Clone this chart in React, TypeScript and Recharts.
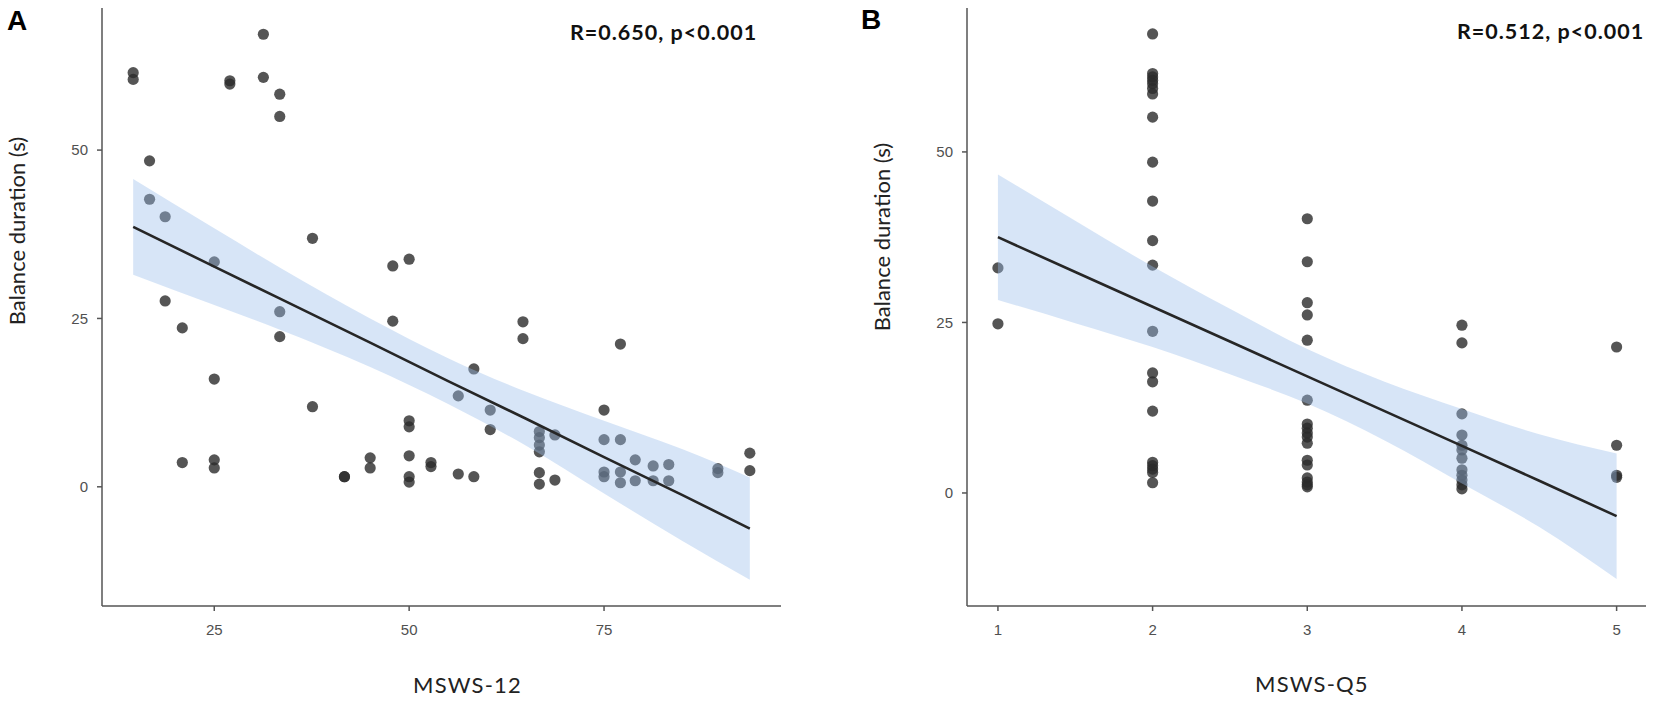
import React from 'react';
import { ComposedChart, Scatter, Area, Line, XAxis, YAxis } from 'recharts';

// ---------- Panel A: MSWS-12 vs Balance duration ----------
const msws12 = [
  14.6, 14.6, 16.7, 16.7, 18.7, 18.7, 20.9, 20.9, 25, 25, 25, 25, 27.0, 27.0,
  31.3, 31.3, 33.4, 33.4, 33.4, 33.4, 37.6, 37.6, 41.7, 41.7, 45, 45, 47.9, 47.9,
  50, 50, 50, 50, 50, 50, 52.8, 52.8, 56.3, 56.3, 58.3, 58.3, 60.4, 60.4, 64.6, 64.6,
  66.7, 66.7, 66.7, 66.7, 66.7, 66.7, 68.7, 68.7, 75, 75, 75, 75, 77.1, 77.1, 77.1, 77.1,
  79.0, 79.0, 81.3, 81.3, 83.3, 83.3, 89.6, 89.6, 93.7, 93.7,
];
const balanceA = [
  61.5, 60.5, 48.4, 42.7, 40.1, 27.6, 23.6, 3.6, 33.4, 16.0, 4.0, 2.8, 60.3, 59.8,
  67.2, 60.8, 58.3, 55.0, 26.0, 22.3, 36.9, 11.9, 1.5, 1.5, 4.3, 2.8, 32.8, 24.6,
  33.8, 9.8, 8.9, 4.6, 1.5, 0.7, 3.6, 3.0, 13.5, 1.9, 17.5, 1.5, 11.4, 8.5, 24.5, 22.0,
  8.2, 7.3, 6.2, 5.2, 2.1, 0.4, 7.7, 1.0, 11.4, 7.0, 2.2, 1.5, 21.2, 7.0, 2.2, 0.6,
  4.0, 0.9, 3.1, 0.9, 3.3, 0.9, 2.7, 2.1, 5.0, 2.4,
];
const bandAX = [14.6, 25, 33.5, 45, 55, 65, 75, 85, 93.7];
const bandALo = [31.5, 27.0, 23.3, 17.8, 12.3, 6.1, -1.0, -8.0, -13.8];
const bandAHi = [45.7, 38.4, 32.5, 25.0, 19.1, 14.1, 9.8, 5.6, 1.4];
const fitA = [38.6, 32.7, 27.9, 21.4, 15.7, 10.1, 4.4, -1.2, -6.2];
const aXTicks = [25, 50, 75];
const aYTicks = [0, 25, 50];

// ---------- Panel B: MSWS-Q5 vs Balance duration ----------
const mswsQ5 = [
  1, 1,
  2, 2, 2, 2, 2, 2, 2, 2, 2, 2, 2, 2, 2, 2, 2, 2, 2, 2, 2, 2, 2,
  3, 3, 3, 3, 3, 3, 3, 3, 3, 3, 3, 3, 3, 3, 3, 3, 3,
  4, 4, 4, 4, 4, 4, 4, 4, 4, 4, 4, 4,
  5, 5, 5, 5,
];
const balanceB = [
  33.0, 24.8,
  67.3, 61.5, 61.0, 60.5, 60.0, 59.3, 58.5, 55.1, 48.5, 42.8, 37.0, 33.4, 23.7, 17.6, 16.3, 12.0, 4.5, 4.0, 3.5, 3.0, 1.5,
  40.2, 33.9, 27.9, 26.1, 22.4, 13.6, 10.1, 9.5, 8.8, 8.2, 7.3, 4.8, 4.1, 2.2, 1.6, 1.2, 0.9,
  24.6, 22.0, 11.6, 8.5, 7.0, 6.3, 5.1, 3.4, 2.6, 1.9, 1.2, 0.6,
  21.4, 7.0, 2.6, 2.3,
];
const bandBX = [1, 1.5, 2, 2.5, 3, 3.5, 4, 4.5, 5];
const bandBLo = [28.3, 24.9, 21.4, 17.4, 13.1, 7.7, 1.4, -5.0, -12.6];
const bandBHi = [46.7, 39.9, 33.2, 27.0, 21.1, 16.3, 12.3, 8.6, 5.8];
const fitB = [37.5, 32.4, 27.3, 22.2, 17.1, 12.0, 6.9, 1.8, -3.4];
const bXTicks = [1, 2, 3, 4, 5];
const bYTicks = [0, 25, 50];

const pointsA = msws12.map((x, i) => ({ x, y: balanceA[i] }));
const rowsA = bandAX.map((x, i) => ({ x, lo: bandALo[i], hi: bandAHi[i], fit: fitA[i] }));
const pointsB = mswsQ5.map((x, i) => ({ x, y: balanceB[i] }));
const rowsB = bandBX.map((x, i) => ({ x, lo: bandBLo[i], hi: bandBHi[i], fit: fitB[i] }));

const AXIS = '#555555';
const tickStyle = { fill: '#505050', fontSize: 15, fontFamily: '"Liberation Sans", Arial, sans-serif' };
const H = 701;
const TOP = 8;
const BOTTOM = 95; // x-axis band (40) + space for title (55)

const Dot = (props: any) => {
  const { cx, cy } = props;
  if (cx == null || cy == null) return null;
  return <circle cx={cx} cy={cy} r={5.6} fill="#2b2b2b" fillOpacity={0.8} />;
};

type PanelProps = {
  width: number;
  yAxisWidth: number;
  marginRight: number;
  points: { x: number; y: number }[];
  rows: { x: number; lo: number; hi: number; fit: number }[];
  xDomain: [number, number];
  yDomain: [number, number];
  xTicks: number[];
  yTicks: number[];
};

// Bottom layer: axes + points
const PointsLayer = ({ width, yAxisWidth, marginRight, points, xDomain, yDomain, xTicks, yTicks }: PanelProps) => (
  <ComposedChart
    width={width}
    height={H}
    data={points}
    margin={{ top: TOP, right: marginRight, left: 0, bottom: BOTTOM - 40 }}
  >
    <XAxis
      dataKey="x"
      type="number"
      domain={xDomain}
      ticks={xTicks}
      allowDataOverflow
      height={40}
      tickSize={5}
      tickMargin={13}
      tick={tickStyle}
      axisLine={{ stroke: AXIS, strokeWidth: 1.5 }}
      tickLine={{ stroke: AXIS, strokeWidth: 1.5 }}
    />
    <YAxis
      dataKey="y"
      type="number"
      domain={yDomain}
      ticks={yTicks}
      allowDataOverflow
      width={yAxisWidth}
      tickSize={5}
      tickMargin={9}
      tick={tickStyle}
      axisLine={{ stroke: AXIS, strokeWidth: 1.5 }}
      tickLine={{ stroke: AXIS, strokeWidth: 1.5 }}
    />
    <Scatter data={points} dataKey="y" shape={Dot} isAnimationActive={false} />
  </ComposedChart>
);

// Top layer: translucent confidence band + regression line (drawn over the points)
const FitLayer = ({ width, yAxisWidth, marginRight, rows, xDomain, yDomain }: PanelProps) => (
  <ComposedChart
    width={width}
    height={H}
    data={rows}
    margin={{ top: TOP, right: marginRight, left: yAxisWidth, bottom: BOTTOM }}
  >
    <XAxis dataKey="x" type="number" domain={xDomain} allowDataOverflow hide />
    <YAxis type="number" domain={yDomain} allowDataOverflow hide />
    <Area
      type="monotone"
      dataKey={(d: any) => [d.lo, d.hi]}
      stroke="none"
      fill="#9bbeec"
      fillOpacity={0.4}
      isAnimationActive={false}
      activeDot={false}
    />
    <Line
      type="linear"
      dataKey="fit"
      stroke="#262626"
      strokeWidth={2.6}
      dot={false}
      activeDot={false}
      isAnimationActive={false}
    />
  </ComposedChart>
);

const Panel = (p: PanelProps & { left: number }) => (
  <div style={{ position: 'absolute', left: p.left, top: 0, width: p.width, height: H }}>
    <div style={{ position: 'absolute', left: 0, top: 0 }}>
      <PointsLayer {...p} />
    </div>
    <div style={{ position: 'absolute', left: 0, top: 0, pointerEvents: 'none' }}>
      <FitLayer {...p} />
    </div>
  </div>
);

const titleFont = 'Lato, "Open Sans", sans-serif';

export default function App() {
  return (
    <div style={{ position: 'absolute', left: 0, top: 0, width: 1654, height: H, background: '#fff' }}>
      <Panel
        left={0}
        width={800}
        yAxisWidth={102}
        marginRight={19}
        points={pointsA}
        rows={rowsA}
        xDomain={[10.6, 97.7]}
        yDomain={[-17.7, 71.1]}
        xTicks={aXTicks}
        yTicks={aYTicks}
      />
      <Panel
        left={810}
        width={844}
        yAxisWidth={157}
        marginRight={8}
        points={pointsB}
        rows={rowsB}
        xDomain={[0.8, 5.19]}
        yDomain={[-16.57, 71.1]}
        xTicks={bXTicks}
        yTicks={bYTicks}
      />
      <svg
        width={1654}
        height={H}
        style={{ position: 'absolute', left: 0, top: 0, pointerEvents: 'none' }}
      >
        <text x={7} y={30} fontFamily='"Liberation Sans", Arial, sans-serif' fontWeight="bold" fontSize={28} fill="#000">A</text>
        <text x={861} y={29} fontFamily='"Liberation Sans", Arial, sans-serif' fontWeight="bold" fontSize={28} fill="#000">B</text>
        <text x={570} y={40} fontFamily={titleFont} fontWeight="bold" fontSize={21.5} letterSpacing={1} fill="#111">R=0.650, p&lt;0.001</text>
        <text x={1457} y={39} fontFamily={titleFont} fontWeight="bold" fontSize={21.5} letterSpacing={1} fill="#111">R=0.512, p&lt;0.001</text>
        <text
          x={0}
          y={0}
          transform="translate(25,231) rotate(-90)"
          textAnchor="middle"
          fontFamily={titleFont}
          fontSize={22}
          fill="#222"
        >
          Balance duration (s)
        </text>
        <text
          x={0}
          y={0}
          transform="translate(890,237) rotate(-90)"
          textAnchor="middle"
          fontFamily={titleFont}
          fontSize={22}
          fill="#222"
        >
          Balance duration (s)
        </text>
        <text x={413} y={693} fontFamily={titleFont} fontSize={22} letterSpacing={1.2} fill="#222">MSWS-12</text>
        <text x={1255} y={692} fontFamily={titleFont} fontSize={22} letterSpacing={1.2} fill="#222">MSWS-Q5</text>
      </svg>
    </div>
  );
}
